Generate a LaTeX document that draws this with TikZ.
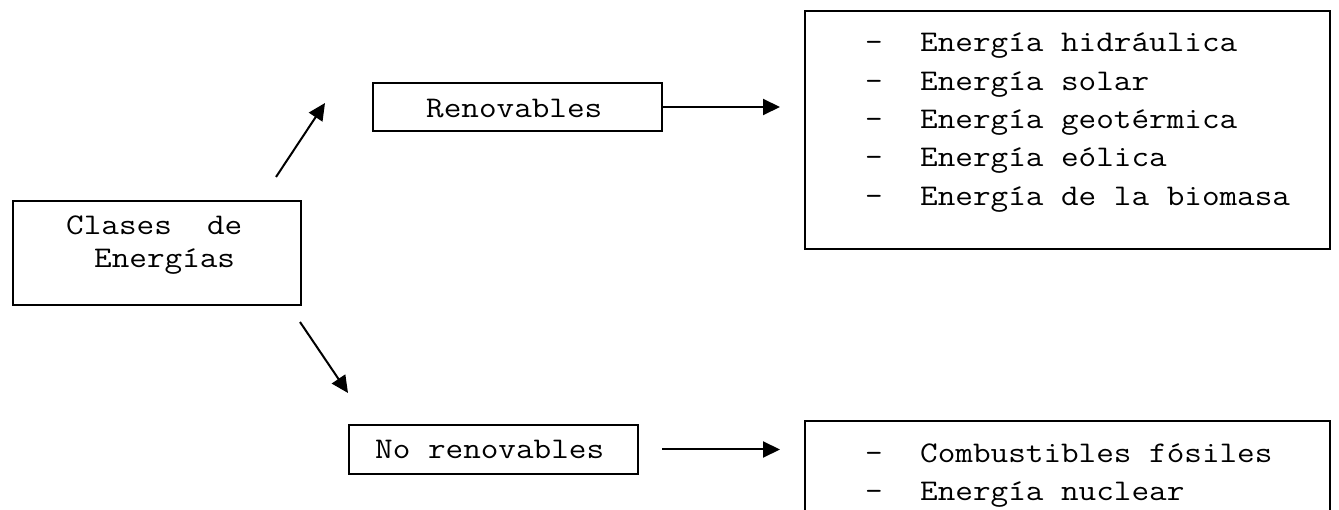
\documentclass[tikz,border=0pt]{standalone}
\usepackage{fontspec}
\setmainfont{Latin Modern Mono}[FakeStretch=1.14]
\usetikzlibrary{arrows.meta}
\newcommand{\boxfont}{\fontsize{30}{38}\selectfont}
\begin{document}
\begin{tikzpicture}[x=1pt,y=-1pt,
  frame/.style={draw=black,line width=2pt,rectangle,inner sep=0pt,anchor=north west},
  lbl/.style={font=\boxfont,inner sep=0pt,anchor=base west,text=black},
  dashlbl/.style={font=\boxfont,inner sep=0pt,anchor=base,text=black},
  arr/.style={draw=black,line width=2pt,-{Triangle[length=17pt,width=16pt]}}]
\useasboundingbox (0,0) rectangle (1339,510);
\clip (0,0) rectangle (1339,510);

% boxes
\node[frame,minimum width=288pt,minimum height=104pt] (clases) at (12,200) {};
\node[frame,minimum width=289pt,minimum height=48pt] (ren) at (372,82) {};
\node[frame,minimum width=289pt,minimum height=49pt] (nren) at (348,424) {};
\node[frame,minimum width=525pt,minimum height=238pt] (rlist) at (804,10) {};
\node[frame,minimum width=525pt,minimum height=130pt] (nlist) at (804,420) {};

% box texts
\node[lbl] (t1) at (66,235) {Clases~~de};
\node[lbl] (t2) at (94,268) {Energías};
\node[lbl] (t3) at (426,118) {Renovables};
\node[lbl] (t4) at (375,459) {No renovables};

% renewable list
\foreach \i/\txt in {0/Energía hidráulica,1/Energía solar,2/Energía geotérmica,3/Energía eólica,4/Energía de la biomasa}{
  \node[dashlbl] (rd\i) at (874,52+38.3*\i) {-};
  \node[lbl] (rt\i) at (920,52+38.3*\i) {\txt};
}
% non-renewable list
\foreach \i/\txt in {0/Combustibles fósiles,1/Energía nuclear}{
  \node[dashlbl] (nd\i) at (874,462+38.3*\i) {-};
  \node[lbl] (nt\i) at (920,462+38.3*\i) {\txt};
}

% connectors
\coordinate (upTail) at (276,177);
\coordinate (upTip) at (325,103);
\coordinate (dnTail) at (300,322);
\coordinate (dnTip) at (348,393);
\draw[arr] (upTail) -- (upTip);
\draw[arr] (dnTail) -- (dnTip);
\draw[arr,shorten >=24pt] (ren.east) -- (ren.east -| rlist.west);
\draw[arr,shorten <=23pt,shorten >=24pt] (nren.east) -- (nren.east -| nlist.west);
\end{tikzpicture}
\end{document}
